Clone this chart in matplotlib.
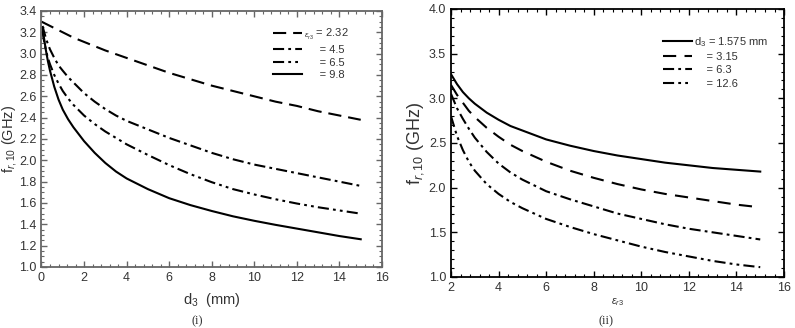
import matplotlib
matplotlib.use("Agg")
import matplotlib.pyplot as plt  # noqa: E402
from matplotlib.ticker import AutoMinorLocator, MultipleLocator, FormatStrFormatter  # noqa: E402

plt.rcParams["font.family"] = ["Liberation Sans", "DejaVu Sans"]
plt.rcParams["mathtext.fontset"] = "custom"
plt.rcParams["mathtext.rm"] = "Liberation Sans"
plt.rcParams["mathtext.it"] = "Liberation Sans:italic"
plt.rcParams["lines.scale_dashes"] = False

# (i) f_r,10 vs d3 for several eps_r3
d3 = [0.05, 0.1, 0.2, 0.3, 0.4, 0.6, 0.8, 1.0, 1.25, 1.5, 2, 2.5, 3, 3.5, 4,
      5, 6, 7, 8, 9, 10, 11, 12, 13, 14, 15]
eps_labels = ["2.32", "4.5", "6.5", "9.8"]
d3_a = [0, 0.5, 1, 1.5, 2, 3, 4, 5, 6, 7, 8, 9, 10, 11, 12, 13, 14, 15]
f_eps232 = [3.30, 3.25, 3.20, 3.15, 3.11, 3.03, 2.96, 2.89, 2.82, 2.76, 2.70, 2.65,
            2.60, 2.55, 2.51, 2.46, 2.42, 2.38]
f_eps45 = [3.26, 3.22, 3.15, 3.09, 3.04, 2.96, 2.89, 2.84, 2.78, 2.73, 2.63, 2.55, 2.48,
           2.42, 2.37, 2.29, 2.21, 2.14, 2.07, 2.01, 1.96, 1.92, 1.88, 1.84, 1.80, 1.76]
f_eps65 = [3.21, 3.14, 3.04, 2.96, 2.90, 2.80, 2.72, 2.65, 2.58, 2.52, 2.42, 2.34, 2.27,
           2.21, 2.15, 2.05, 1.955, 1.87, 1.795, 1.73, 1.68, 1.635, 1.595, 1.56, 1.53, 1.50]
f_eps98 = [3.24, 3.17, 3.04, 2.93, 2.84, 2.69, 2.57, 2.475, 2.385, 2.31, 2.18, 2.07, 1.975,
           1.895, 1.83, 1.73, 1.645, 1.58, 1.525, 1.475, 1.433, 1.395, 1.36, 1.325, 1.29, 1.26]

# (ii) f_r,10 vs eps_r3 for several d3
eps = [2, 2.25, 2.5, 2.75, 3, 3.5, 4, 4.5, 5, 6, 7, 8, 9, 10, 11, 12, 13, 14, 15]
d3_labels = ["1.575 mm", "3.15", "6.3", "12.6"]
f_d1575 = [3.27, 3.16, 3.07, 3.00, 2.94, 2.84, 2.76, 2.69, 2.64, 2.54, 2.47, 2.41, 2.36,
           2.32, 2.28, 2.25, 2.22, 2.20, 2.18]
f_d315 = [3.15, 3.04, 2.95, 2.86, 2.79, 2.67, 2.57, 2.48, 2.41, 2.29, 2.19, 2.11, 2.04,
          1.98, 1.93, 1.89, 1.85, 1.81, 1.78]
f_d63 = [3.05, 2.89, 2.77, 2.66, 2.56, 2.40, 2.27, 2.17, 2.09, 1.96, 1.87, 1.79, 1.71,
         1.65, 1.59, 1.54, 1.50, 1.46, 1.42]
f_d126 = [2.80, 2.58, 2.42, 2.29, 2.19, 2.04, 1.93, 1.84, 1.77, 1.65, 1.56, 1.48, 1.41,
          1.34, 1.28, 1.23, 1.18, 1.14, 1.11]

DASH = (0, (9.5, 5))
DASH2 = (0, (9.5, 6))
DASHDOT = (0, (8, 3, 2, 3))
DASHDOTDOT = (0, (8, 3, 2, 3, 2, 3))
SOLID = "-"
TXT = "#333333"


def style_axes(ax, spine_color):
    for s in ax.spines.values():
        s.set_color(spine_color)
        s.set_linewidth(1.3)
    ax.tick_params(which="both", direction="in", top=True, right=True,
                   colors=spine_color, labelcolor=TXT, labelsize=9)
    ax.tick_params(which="major", length=4, width=1)
    ax.tick_params(which="minor", length=2, width=0.8)


fig = plt.figure(figsize=(7.95, 3.28), dpi=100)
fig.patch.set_facecolor("white")

# ---- panel (i)
ax1 = fig.add_axes([0.0522, 0.186, 0.4283, 0.7805])
ax1.plot(d3_a, f_eps232, color="black", lw=1.5, linestyle=DASH)
for y, ls in zip([f_eps45, f_eps65, f_eps98], [DASHDOT, DASHDOTDOT, SOLID]):
    ax1.plot(d3, y, color="black", lw=1.5, linestyle=ls)
ax1.set_xlim(0, 16)
ax1.set_ylim(1.0, 3.4)
ax1.xaxis.set_major_locator(MultipleLocator(2))
ax1.xaxis.set_minor_locator(AutoMinorLocator(5))
ax1.yaxis.set_major_locator(MultipleLocator(0.2))
ax1.yaxis.set_minor_locator(AutoMinorLocator(4))
ax1.yaxis.set_major_formatter(FormatStrFormatter("%.1f"))
style_axes(ax1, "#666666")
ax1.set_xlabel(r"d$_3$  (mm)", fontsize=10.5, color=TXT, labelpad=5)
ax1.set_ylabel(r"f$_{r,10}$ (GHz)", fontsize=10.5, color=TXT, labelpad=0)
labels1 = [r"$_{\varepsilon_{r3}}$ = " + eps_labels[0]] + \
          ["     = " + s for s in eps_labels[1:]]
leg1 = ax1.legend(ax1.lines, labels1, loc="upper right", bbox_to_anchor=(0.915, 0.955),
                  frameon=False, fontsize=8, handlelength=2.6, handletextpad=0.2,
                  labelspacing=0.25, borderaxespad=0)
for t in leg1.get_texts():
    t.set_color(TXT)

# ---- panel (ii)
ax2 = fig.add_axes([0.5673, 0.1555, 0.4189, 0.8171])
for y, ls in zip([f_d1575, f_d315, f_d63, f_d126], [SOLID, DASH2, DASHDOT, DASHDOTDOT]):
    ax2.plot(eps, y, color="black", lw=1.5, linestyle=ls)
ax2.set_xlim(2, 16)
ax2.set_ylim(1.0, 4.0)
ax2.xaxis.set_major_locator(MultipleLocator(2))
ax2.xaxis.set_minor_locator(AutoMinorLocator(5))
ax2.yaxis.set_major_locator(MultipleLocator(0.5))
ax2.yaxis.set_minor_locator(AutoMinorLocator(5))
ax2.yaxis.set_major_formatter(FormatStrFormatter("%.1f"))
style_axes(ax2, "black")
ax2.set_xlabel(r"$_{\varepsilon_{r3}}$", fontsize=11, color=TXT, labelpad=1)
ax2.set_ylabel(r"f$_{r,10}$ (GHz)", fontsize=13, color=TXT, labelpad=2)
labels2 = [r"d$_3$ = " + d3_labels[0]] + ["    = " + s for s in d3_labels[1:]]
leg2 = ax2.legend(ax2.lines, labels2, loc="upper right", bbox_to_anchor=(0.965, 0.92),
                  frameon=False, fontsize=8, handlelength=2.6, handletextpad=0.15,
                  labelspacing=0.3, borderaxespad=0)
for t in leg2.get_texts():
    t.set_color(TXT)

# panel captions
fig.text(197 / 795, 0.002, "(i)", ha="center", va="bottom", fontsize=9,
         family="Liberation Serif", color=TXT)
fig.text(606 / 795, 0.002, "(ii)", ha="center", va="bottom", fontsize=9,
         family="Liberation Serif", color=TXT)

fig.savefig("out.png", dpi=100)
